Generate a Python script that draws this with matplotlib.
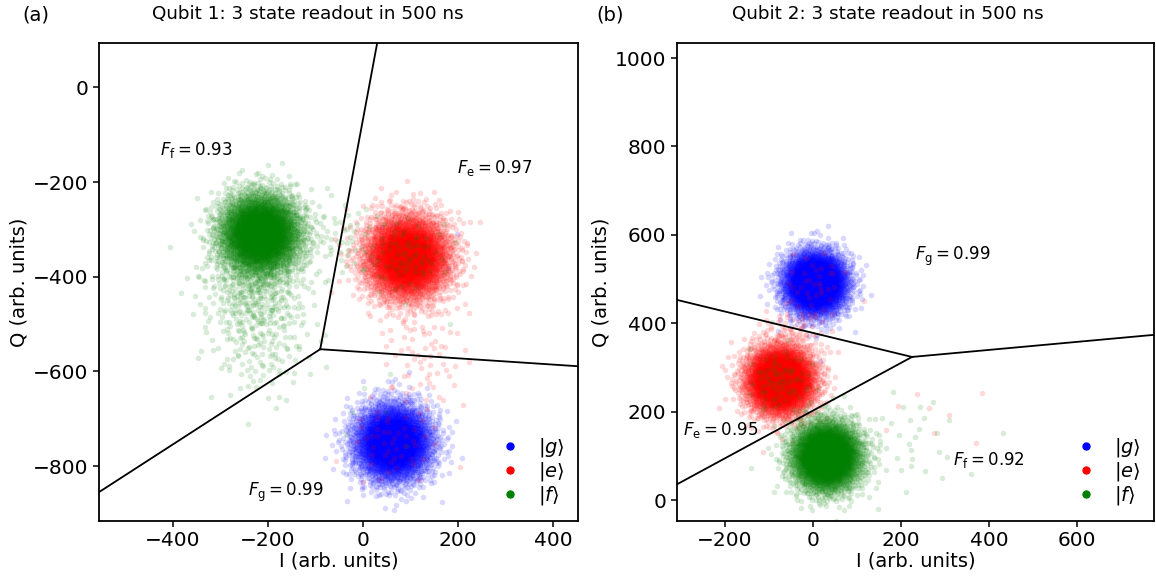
import matplotlib.pyplot as plt
import numpy as np
from matplotlib.lines import Line2D

# ---- data ----
# cloud components per prepared state: (I centre, Q centre, sigma I, sigma Q, n points)
q1_g = [(63, -750, 40, 40, 4000), (93, -358, 40, 40, 25)]
q1_e = [(93, -358, 44, 44, 4000), (130, -560, 45, 65, 70), (63, -750, 45, 45, 50)]
q1_f = [(-217, -308, 42, 42, 4000), (-230, -430, 55, 55, 350), (-215, -550, 55, 55, 120),
        (-40, -320, 40, 40, 50), (93, -358, 40, 40, 70), (20, -680, 60, 50, 6)]

q2_g = [(5, 491, 35, 35, 4000), (-75, 272, 35, 35, 20)]
q2_e = [(-75, 272, 38, 38, 4000), (-40, 390, 40, 25, 50), (5, 491, 35, 35, 35),
        (260, 200, 90, 40, 8)]
q2_f = [(30, 100, 38, 38, 4000), (200, 130, 85, 60, 40), (-75, 272, 37, 37, 70)]

# decision boundaries: vertex and three end points
q1_vertex = (-90, -553)
q1_ends = [(30, 94), (453, -589), (-556, -855)]
q2_vertex = (225, 324)
q2_ends = [(-309, 453), (775, 374), (-309, 36)]

q1_fid = [("f", 0.93, -427, -132), ("e", 0.97, 198, -170), ("g", 0.99, -242, -855)]
q2_fid = [("g", 0.99, 232, 552), ("e", 0.95, -295, 158), ("f", 0.92, 318, 90)]

q1_xlim, q1_ylim = (-556, 453), (-916, 94)
q2_xlim, q2_ylim = (-309, 775), (-47, 1034)
q1_xticks, q1_yticks = [-400, -200, 0, 200, 400], [-800, -600, -400, -200, 0]
q2_xticks, q2_yticks = [-200, 0, 200, 400, 600], [0, 200, 400, 600, 800, 1000]

state_colors = {"g": "blue", "e": "red", "f": "green"}
state_labels = {"g": r"$|g\rangle$", "e": r"$|e\rangle$", "f": r"$|f\rangle$"}


def halton(n, base, skip):
    k = np.arange(skip + 1, skip + n + 1)
    out = np.zeros(n)
    f = 1.0
    while np.any(k > 0):
        f /= base
        out += f * (k % base)
        k = k // base
    return out


def cloud(components, skip):
    xs, ys = [], []
    for cx, cy, sx, sy, n in components:
        u1 = halton(n, 2, skip)
        u2 = halton(n, 3, skip)
        r = np.sqrt(-2 * np.log(u1))
        th = 2 * np.pi * u2
        xs.append(cx + sx * r * np.cos(th))
        ys.append(cy + sy * r * np.sin(th))
        skip += n + 17
    return np.concatenate(xs), np.concatenate(ys)


plt.rcParams['font.family'] = 'DejaVu Sans'
plt.rcParams['mathtext.fontset'] = 'dejavusans'

fig = plt.figure(figsize=(11.56, 5.8), dpi=100)
ax1 = fig.add_axes([99 / 1156, 59 / 580, 479 / 1156, 478 / 580])
ax2 = fig.add_axes([677 / 1156, 59 / 580, 477 / 1156, 478 / 580])


def draw_panel(ax, clouds, vertex, ends, fids, xlim, ylim, xticks, yticks, title, title_x):
    skip = 0
    for key, comps in clouds:
        x, y = cloud(comps, skip)
        skip += 7919
        ax.scatter(x, y, s=16, color=state_colors[key], alpha=0.15, linewidths=0)
    for ex, ey in ends:
        ax.plot([vertex[0], ex], [vertex[1], ey], color='black', lw=1.3)
    for key, val, tx, ty in fids:
        ax.text(tx, ty, r"$F_{\mathrm{%s}} = %.2f$" % (key, val), fontsize=12,
                ha='left', va='center')
    ax.set_xlim(*xlim)
    ax.set_ylim(*ylim)
    ax.set_xticks(xticks)
    ax.set_yticks(yticks)
    ax.tick_params(labelsize=14.5, width=1.1, length=4)
    for sp in ax.spines.values():
        sp.set_linewidth(1.3)
    ax.set_xlabel("I (arb. units)", fontsize=14, labelpad=1)
    ax.set_ylabel("Q (arb. units)", fontsize=14, labelpad=3)
    ax.set_title(title, fontsize=13.2, pad=17, x=title_x)
    handles = [Line2D([], [], marker='o', ls='', color=state_colors[k], markersize=5)
               for k in ["g", "e", "f"]]
    ax.legend(handles, [state_labels[k] for k in ["g", "e", "f"]], loc='lower right',
              frameon=False, fontsize=14, handlelength=1.2, handletextpad=0.8,
              labelspacing=0.05, borderaxespad=0.3)


draw_panel(ax1, [("g", q1_g), ("e", q1_e), ("f", q1_f)], q1_vertex, q1_ends, q1_fid,
           q1_xlim, q1_ylim, q1_xticks, q1_yticks, "Qubit 1: 3 state readout in 500 ns", 0.436)
draw_panel(ax2, [("g", q2_g), ("e", q2_e), ("f", q2_f)], q2_vertex, q2_ends, q2_fid,
           q2_xlim, q2_ylim, q2_xticks, q2_yticks, "Qubit 2: 3 state readout in 500 ns", 0.442)

fig.text(36 / 1156, 1 - 15 / 580, "(a)", fontsize=14, ha='center', va='center')
fig.text(610 / 1156, 1 - 15 / 580, "(b)", fontsize=14, ha='center', va='center')

fig.savefig("out.png", dpi=100)
